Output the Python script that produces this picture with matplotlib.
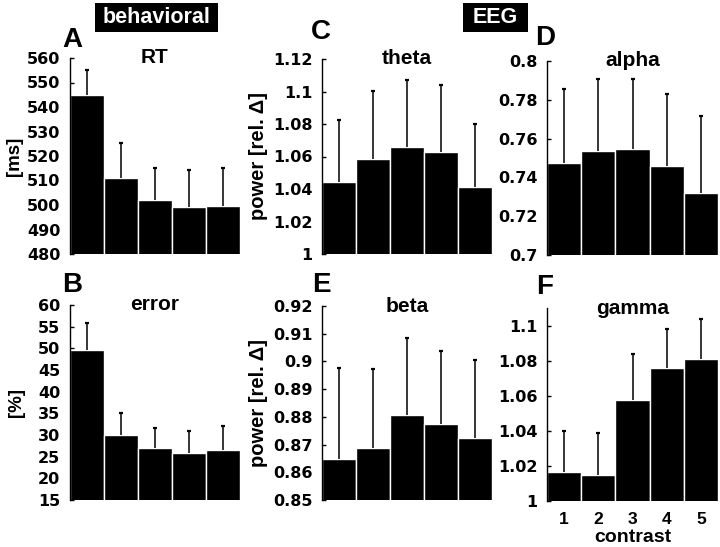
import matplotlib
matplotlib.use("Agg")
import matplotlib.pyplot as plt
from matplotlib.patches import Rectangle
import numpy as np

# ---- data ----
contrast = [1, 2, 3, 4, 5]
contrast_labels = ["1", "2", "3", "4", "5"]

rt_mean = [545.0, 511.0, 502.0, 499.3, 499.7]
rt_sem = [10.2, 14.2, 13.2, 15.0, 15.5]

error_mean = [49.6, 30.1, 27.0, 25.9, 26.6]
error_sem = [6.2, 4.9, 4.6, 5.0, 5.4]

theta_mean = [1.0446, 1.0583, 1.0661, 1.0627, 1.0410]
theta_sem = [0.0380, 0.0420, 0.0407, 0.0411, 0.0390]

alpha_mean = [0.7472, 0.7535, 0.7544, 0.7458, 0.7322]
alpha_sem = [0.0386, 0.0371, 0.0363, 0.0374, 0.0395]

beta_mean = [0.8648, 0.8689, 0.8806, 0.8775, 0.8722]
beta_sem = [0.0330, 0.0283, 0.0279, 0.0264, 0.0282]

gamma_mean = [1.0165, 1.0150, 1.0576, 1.0760, 1.0807]
gamma_sem = [0.0233, 0.0238, 0.0259, 0.0219, 0.0233]

rt_ticks = [480, 490, 500, 510, 520, 530, 540, 550, 560]
error_ticks = [15, 20, 25, 30, 35, 40, 45, 50, 55, 60]
theta_ticks = [1, 1.02, 1.04, 1.06, 1.08, 1.1, 1.12]
alpha_ticks = [0.7, 0.72, 0.74, 0.76, 0.78, 0.8]
beta_ticks = [0.85, 0.86, 0.87, 0.88, 0.89, 0.9, 0.91, 0.92]
gamma_ticks = [1, 1.02, 1.04, 1.06, 1.08, 1.1]

W, H = 720, 547
fig = plt.figure(figsize=(W / 100, H / 100), dpi=100)

TXT = "Liberation Sans"
TICKF = "DejaVu Sans"


def rect(left, right, top, bottom):
    return [left / W, 1 - bottom / H, (right - left) / W, (bottom - top) / H]


def panel(pos, mean, sem, ylim, ticks, title, letter, letter_xy, ylabel=None,
          ylabel_x=None, xticks=False):
    ax = fig.add_axes(rect(*pos))
    ax.bar(contrast, mean, width=1.0, color="black", edgecolor="white",
           linewidth=1.0, zorder=2)
    top = np.asarray(mean) + np.asarray(sem)
    ax.vlines(contrast, mean, top, color="black", linewidth=1.1, zorder=3)
    ax.plot(contrast, top, linestyle="none", marker="_", markersize=3,
            markeredgewidth=1.6, color="black", zorder=3)
    ax.set_xlim(0.5, 5.5)
    ax.set_ylim(*ylim)
    ax.set_yticks(ticks)
    ax.set_yticklabels(["%g" % t for t in ticks], fontfamily=TICKF,
                       fontweight="bold", fontsize=11.5)
    ax.tick_params(axis="y", direction="in", length=3, width=1, pad=7)
    for s in ["top", "right", "bottom"]:
        ax.spines[s].set_visible(False)
    ax.spines["left"].set_linewidth(1.0)
    ax.spines["left"].set_zorder(4)
    if xticks:
        ax.set_xticks(contrast)
        ax.set_xticklabels(contrast_labels, fontfamily=TXT, fontweight="bold",
                           fontsize=12.5)
        ax.tick_params(axis="x", length=0, pad=8)
        ax.set_xlabel("contrast", fontfamily=TXT, fontweight="bold",
                      fontsize=14)
        ax.xaxis.set_label_coords(0.5, -0.187)
        ax.xaxis.label.set_va("center")
    else:
        ax.set_xticks([])
    ax.set_title(title, fontfamily=TXT, fontweight="bold", fontsize=15,
                 y=1.0, pad=0, va="center")
    if ylabel:
        ax.set_ylabel(ylabel, fontfamily=TXT, fontweight="bold",
                      fontsize=14.5 if "power" in ylabel else 13.5)
        ax.yaxis.set_label_coords(ylabel_x, 0.5)
        ax.yaxis.label.set_va("center")
    fig.text(letter_xy[0] / W, 1 - letter_xy[1] / H, letter, fontfamily=TXT,
             fontweight="bold", fontsize=20, ha="center", va="center")
    return ax


panel((70, 240, 58, 254), rt_mean, rt_sem, (480, 560), rt_ticks, "RT", "A",
      (72, 40), "[ms]", (15 - 70) / 170)
panel((70, 240, 305, 500), error_mean, error_sem, (15, 60), error_ticks,
      "error", "B", (72, 285), "[%]", (17 - 70) / 170)
panel((322, 492, 59, 254), theta_mean, theta_sem, (1, 1.12), theta_ticks,
      "theta", "C", (321, 32), "power [rel. Δ]", (258 - 322) / 170)
panel((322, 492, 306, 500), beta_mean, beta_sem, (0.85, 0.92), beta_ticks,
      "beta", "E", (321, 285), "power [rel. Δ]", (258 - 322) / 170)
panel((547, 718, 61, 255), alpha_mean, alpha_sem, (0.7, 0.8), alpha_ticks,
      "alpha", "D", (545, 38))
panel((547, 718, 308, 501), gamma_mean, gamma_sem, (1, 1.11), gamma_ticks,
      "gamma", "F", (545, 287), xticks=True)

# header boxes
for (x0, x1, label) in [(95, 218, "behavioral"), (463, 528, "EEG")]:
    fig.patches.append(Rectangle((x0 / W, 1 - 32 / H), (x1 - x0) / W, 29 / H,
                                 transform=fig.transFigure, facecolor="black",
                                 edgecolor="none", zorder=0))
    fig.text((x0 + x1) / 2 / W, 1 - 17.5 / H, label, color="white",
             fontfamily=TXT, fontweight="bold", fontsize=15.5, ha="center",
             va="center")

fig.savefig("out.png", dpi=100, facecolor="white")
